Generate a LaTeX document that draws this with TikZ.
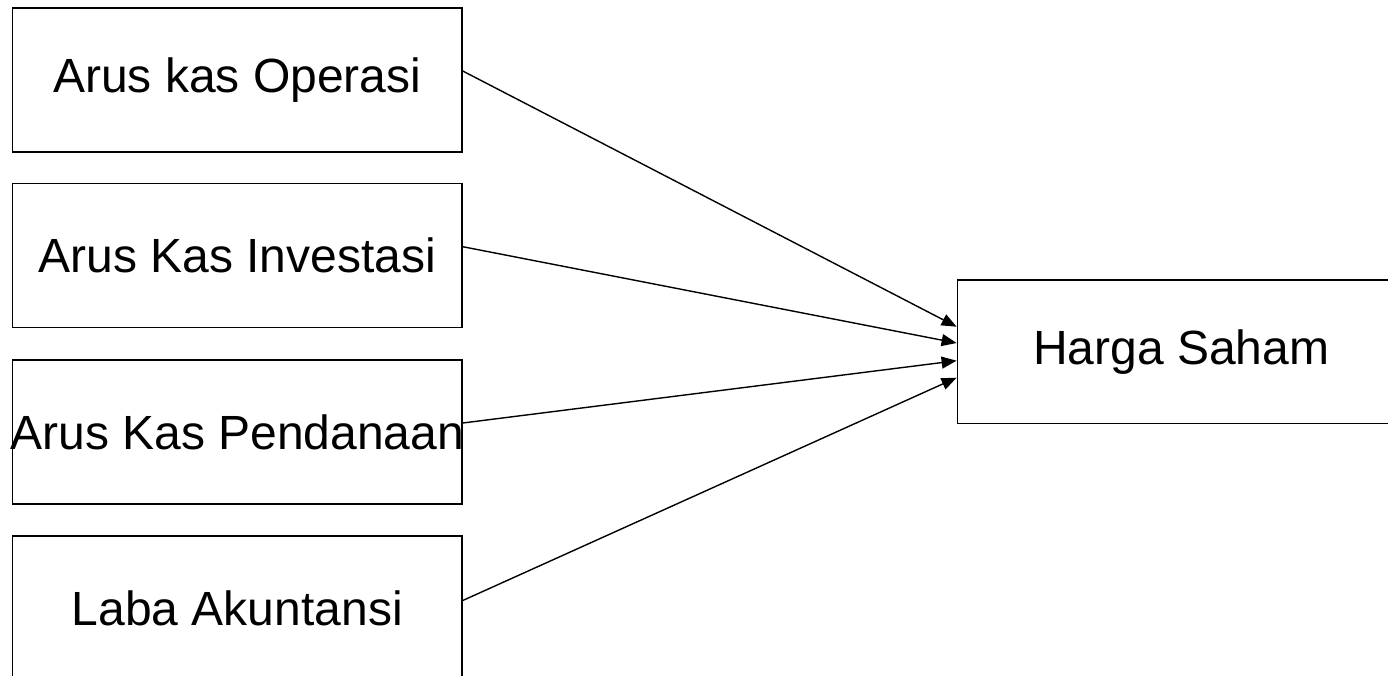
\documentclass[tikz,border=0pt]{standalone}
\usepackage{fontspec}
\setmainfont{Liberation Sans}
\usetikzlibrary{arrows.meta}
\begin{document}
\begin{tikzpicture}[x=1pt,y=-1pt,
  box/.style={draw=black,line width=1.4pt,minimum width=449.5pt,minimum height=144pt,inner sep=0pt,font=\fontsize{48}{56}\selectfont},
  arr/.style={line width=1.4pt,-{Triangle[length=15pt,width=12pt]}}]
\useasboundingbox (0,0) rectangle (1388,675);
\clip (0,0) rectangle (1388,675);
\node[box] (a) at (237.3,80) {Arus kas Operasi};
\node[box] (b) at (237.3,255.7) {Arus Kas Investasi};
\node[box] (c) at (237.3,432) {\makebox[0pt][c]{Arus Kas Pendanaan}};
\node[box] (d) at (237.3,608) {Laba Akuntansi};
\node[box,minimum width=448pt,minimum height=143.3pt] (h) at (1181.3,351.7) {Harga Saham};
\draw[arr] ([yshift=9pt]a.east) -- ([yshift=25pt]h.west);
\draw[arr] ([yshift=9pt]b.east) -- ([yshift=8.7pt]h.west);
\draw[arr] ([yshift=9pt]c.east) -- ([yshift=-9pt]h.west);
\draw[arr] ([yshift=7.5pt]d.east) -- ([yshift=-26pt]h.west);
\end{tikzpicture}
\end{document}
